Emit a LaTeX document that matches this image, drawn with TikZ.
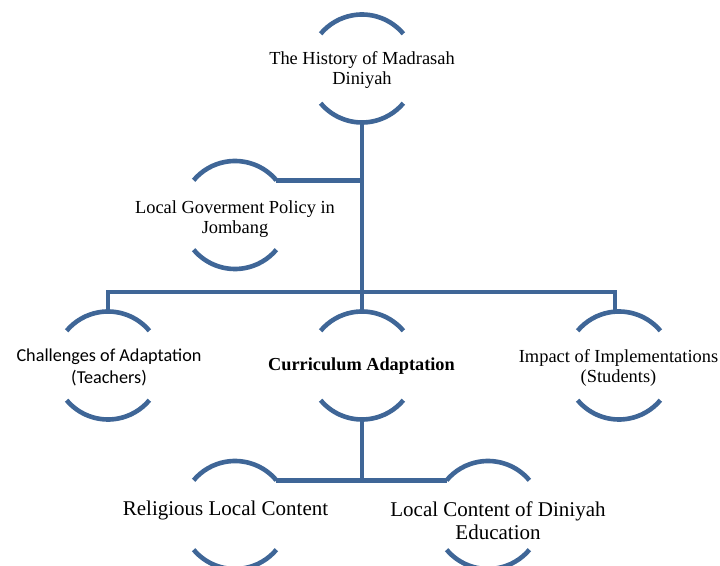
\documentclass[tikz,border=0pt]{standalone}
\usepackage{fontspec}
\setmainfont{Liberation Serif}
\newfontfamily\calib{Carlito}
\definecolor{lineblue}{RGB}{63,102,151}
\begin{document}
\begin{tikzpicture}[x=1pt,y=1pt,
  ring/.style={circle, minimum size=108pt, inner sep=0pt, outer sep=0pt},
  arcline/.style={draw=lineblue, line width=4.6pt},
  conn/.style={draw=lineblue, line width=4.6pt},
  lbl/.style={align=center, font=\fontsize{18.4}{20.5}\selectfont, inner sep=0pt},
  lblbig/.style={align=center, font=\fontsize{21}{23}\selectfont, inner sep=0pt}]
\useasboundingbox (0,0) rectangle (720,565);
\clip (0,0) rectangle (720,565);
% circles (arc holders)
\node[ring] (h) at (362,496.5) {};
\node[ring] (g) at (235,350) {};
\node[ring] (c) at (108,199.5) {};
\node[ring] (k) at (362,199.5) {};
\node[ring] (i) at (619,199.5) {};
\node[ring] (r) at (235,50) {};
\node[ring] (d) at (488,50) {};
\foreach \n in {h,g,c,k,i,r,d} {
  \draw[arcline] (\n.40) arc[start angle=40,end angle=140,radius=54pt];
  \draw[arcline] (\n.220) arc[start angle=220,end angle=320,radius=54pt];
}
% texts
\node[lbl] (th) at (362,495) {The History of Madrasah\\Diniyah};
\node[lbl] (tg) at (235,346) {Local Goverment Policy in\\Jombang};
\node[lbl, font=\calib\fontsize{18.2}{21.5}\selectfont] (tc) at (109,197.5) {Challenges of Adaptation\\(Teachers)};
\node[lbl, font=\bfseries\fontsize{18.3}{20.5}\selectfont] (tk) at (361.5,198.5) {Curriculum Adaptation};
\node[lbl] (ti) at (618.5,197) {Impact of Implementations\\(Students)};
\node[lblbig] (tr) at (225.5,55) {Religious Local Content};
\node[lblbig] (td) at (498,44) {Local Content of Diniyah\\Education};
% connectors
\coordinate (bar) at (362,273);
\draw[conn] (h.south) -- (k.north);
\draw[conn] (g.40) -- (g.40 -| h.south);
\draw[conn] (c.north) |- (bar) -| ([xshift=-4pt]i.north);
\draw[conn] (k.south) -- (k.south |- r.40);
\draw[conn] (r.40) -- (d.140);
\end{tikzpicture}
\end{document}
